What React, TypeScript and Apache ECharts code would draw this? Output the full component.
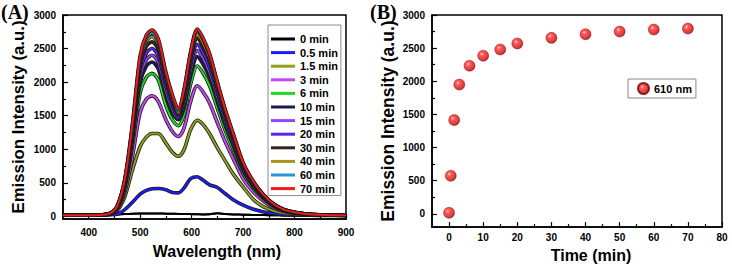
import React, { useEffect, useRef } from "react";
import * as echarts from "echarts";

// ---------- data ----------
const wavelengths = [350, 420, 440, 455, 470, 485, 500, 512, 523, 535, 550, 563, 574, 585, 598, 611, 622, 635, 650, 665, 680, 700, 720, 740, 760, 780, 800, 830, 860, 900];

const spectrumLabels = ["0 min", "0.5 min", "1.5 min", "3 min", "6 min", "10 min", "15 min", "20 min", "30 min", "40 min", "60 min", "70 min"];
const spectrumColors = ["#000000", "#1c1cf5", "#8f9f1e", "#c846ee", "#22d822", "#1c1c50", "#9444f2", "#5c24f0", "#3a2222", "#a89222", "#3090d8", "#ee1c1c"];

const s0min = [15, 18, 22, 28, 35, 40, 42, 42, 42, 42, 40, 38, 36, 35, 33, 30, 28, 30, 45, 35, 28, 25, 20, 18, 15, 14, 13, 12, 12, 12];
const s05min = [15, 18, 22, 30, 100, 210, 330, 385, 410, 415, 395, 355, 350, 420, 560, 590, 540, 470, 430, 340, 250, 165, 105, 65, 40, 25, 18, 15, 14, 13];
const s15min = [15, 18, 30, 80, 290, 690, 1040, 1180, 1235, 1235, 1090, 950, 895, 990, 1290, 1430, 1370, 1230, 1020, 830, 640, 440, 250, 140, 80, 45, 30, 20, 16, 14];
const s3min = [15, 19, 35, 97, 355, 892, 1553, 1746, 1795, 1714, 1440, 1260, 1190, 1310, 1708, 1945, 1854, 1686, 1395, 1115, 871, 558, 362, 224, 126, 70, 43, 25, 18, 14];
const s6min = [15, 20, 38, 115, 422, 1059, 1842, 2072, 2130, 2034, 1651, 1430, 1350, 1510, 1967, 2240, 2135, 1942, 1606, 1284, 1004, 643, 417, 258, 146, 81, 49, 27, 19, 14];
const s10min = [15, 20, 39, 124, 455, 1143, 1990, 2238, 2300, 2197, 1783, 1530, 1440, 1605, 2090, 2380, 2268, 2063, 1706, 1364, 1066, 683, 443, 274, 155, 86, 52, 28, 19, 15];
const s15minB = [15, 20, 39, 130, 475, 1193, 2076, 2335, 2400, 2292, 1860, 1580, 1460, 1665, 2169, 2470, 2354, 2141, 1771, 1415, 1107, 709, 459, 284, 160, 89, 54, 28, 19, 15];
const s20min = [15, 20, 40, 135, 495, 1243, 2163, 2433, 2500, 2388, 1938, 1630, 1480, 1725, 2248, 2560, 2440, 2220, 1835, 1467, 1147, 735, 476, 294, 166, 92, 56, 29, 20, 15];
const s30min = [15, 20, 40, 140, 515, 1292, 2249, 2530, 2600, 2483, 2015, 1690, 1510, 1786, 2327, 2650, 2525, 2298, 1900, 1518, 1187, 760, 493, 305, 172, 95, 58, 29, 20, 15];
const s40min = [15, 20, 40, 145, 530, 1332, 2318, 2608, 2680, 2560, 2077, 1740, 1540, 1825, 2380, 2710, 2583, 2350, 1943, 1553, 1214, 778, 504, 312, 176, 98, 60, 30, 20, 15];
const s60min = [15, 20, 40, 148, 540, 1357, 2360, 2656, 2730, 2607, 2115, 1770, 1570, 1865, 2432, 2770, 2640, 2400, 1985, 1587, 1240, 795, 515, 318, 180, 100, 60, 30, 20, 15];
const s70min = [15, 20, 40, 150, 550, 1380, 2400, 2700, 2775, 2650, 2150, 1800, 1600, 1880, 2450, 2790, 2660, 2420, 2000, 1600, 1250, 800, 520, 320, 180, 100, 60, 30, 20, 15];
const spectra = [s0min, s05min, s15min, s3min, s6min, s10min, s15minB, s20min, s30min, s40min, s60min, s70min];

const times = [0, 0.5, 1.5, 3, 6, 10, 15, 20, 30, 40, 50, 60, 70];
const intensity610 = [15, 575, 1415, 1950, 2235, 2385, 2480, 2570, 2655, 2710, 2750, 2780, 2795];

const wavelengthTicks = [400, 500, 600, 700, 800, 900];
const wavelengthMinorTicks = [450, 550, 650, 750, 850];
const intensityTicks = [0, 500, 1000, 1500, 2000, 2500, 3000];
const intensityMinorTicks = [250, 750, 1250, 1750, 2250, 2750];
const timeTicks = [0, 10, 20, 30, 40, 50, 60, 70, 80];
const timeMinorTicks = [5, 15, 25, 35, 45, 55, 65, 75];

// ---------- styles ----------
const FONT = 'Arial, "Liberation Sans", sans-serif';
const labelStyle = { fontSize: 10, fontWeight: "bold" as const, color: "#000", fontFamily: FONT };
const nameStyleBase = { fontWeight: "bold" as const, color: "#000", fontFamily: FONT };

function majorAxis(extra: any, ticks: number[], labelMargin: number) {
  return {
    type: "value",
    axisLine: { show: true, onZero: false, lineStyle: { color: "#000", width: 1.5 } },
    axisTick: { show: true, inside: true, length: 5, customValues: ticks, lineStyle: { color: "#000", width: 1.2 } },
    axisLabel: { ...labelStyle, customValues: ticks, margin: labelMargin, formatter: (v: number) => String(v) },
    splitLine: { show: false },
    ...extra,
  };
}
function minorAxis(extra: any, ticks: number[]) {
  return {
    type: "value",
    axisLine: { show: false, onZero: false },
    axisTick: { show: true, inside: true, length: 3, customValues: ticks, lineStyle: { color: "#000", width: 1.2 } },
    axisLabel: { show: false },
    splitLine: { show: false },
    ...extra,
  };
}

export default function App() {
  const ref = useRef<HTMLDivElement>(null);
  useEffect(() => {
    if (!ref.current) return;
    const chart = echarts.init(ref.current, undefined, { renderer: "svg" });

    const lineSeries: any[] = [];
    spectra.forEach((vals, i) => {
      const data = wavelengths.map((w, k) => [w, vals[k]]);
      lineSeries.push({
        type: "line",
        name: "_edge" + i,
        xAxisIndex: 0,
        yAxisIndex: 0,
        data,
        showSymbol: false,
        smooth: 0.3,
        silent: true,
        lineStyle: { color: "#1a1a1a", width: i === 0 ? 2 : 3.6 },
        z: 2,
      });
      lineSeries.push({
        type: "line",
        name: spectrumLabels[i],
        xAxisIndex: 0,
        yAxisIndex: 0,
        data,
        showSymbol: false,
        smooth: 0.3,
        color: spectrumColors[i],
        itemStyle: { color: spectrumColors[i] },
        lineStyle: { color: spectrumColors[i], width: 2 },
        z: 2,
      });
    });

    const ballFill = {
      type: "radial",
      x: 0.38,
      y: 0.35,
      r: 0.7,
      colorStops: [
        { offset: 0, color: "#ffc8d8" },
        { offset: 0.25, color: "#ff3030" },
        { offset: 0.75, color: "#d80808" },
        { offset: 1, color: "#5a0000" },
      ],
    };

    chart.setOption({
      animation: false,
      backgroundColor: "#fff",
      grid: [
        { left: 63, top: 15, right: 386, bottom: 49, show: true, borderColor: "#000", borderWidth: 1.5, backgroundColor: "transparent" },
        { left: 432, top: 15, right: 10, bottom: 40, show: true, borderColor: "#000", borderWidth: 1.5, backgroundColor: "transparent" },
      ],
      xAxis: [
        majorAxis(
          {
            gridIndex: 0, min: 350, max: 900, position: "bottom",
            name: "Wavelength (nm)", nameLocation: "middle", nameGap: 24,
            nameTextStyle: { ...nameStyleBase, fontSize: 16, padding: [0, 0, 0, 25] },
          },
          wavelengthTicks, 8
        ),
        minorAxis({ gridIndex: 0, min: 350, max: 900, position: "bottom" }, wavelengthMinorTicks),
        majorAxis(
          {
            gridIndex: 1, min: -5, max: 80, position: "bottom",
            name: "Time (min)", nameLocation: "middle", nameGap: 18,
            nameTextStyle: { ...nameStyleBase, fontSize: 16, padding: [0, 0, 0, 28] },
          },
          timeTicks, 5
        ),
        minorAxis({ gridIndex: 1, min: -5, max: 80, position: "bottom" }, timeMinorTicks),
      ],
      yAxis: [
        majorAxis(
          {
            gridIndex: 0, min: -40, max: 3000, position: "left",
            name: "Emission Intensity (a.u.)", nameLocation: "middle", nameGap: 36,
            nameTextStyle: { ...nameStyleBase, fontSize: 16.8 },
          },
          intensityTicks, 7
        ),
        minorAxis({ gridIndex: 0, min: -40, max: 3000, position: "left" }, intensityMinorTicks),
        majorAxis(
          {
            gridIndex: 1, min: -200, max: 3000, position: "left",
            name: "Emission Intensity (a.u.)", nameLocation: "middle", nameGap: 35,
            nameTextStyle: { ...nameStyleBase, fontSize: 17.5 },
          },
          intensityTicks, 7
        ),
        minorAxis({ gridIndex: 1, min: -200, max: 3000, position: "left" }, intensityMinorTicks),
      ],
      legend: [
        {
          data: spectrumLabels,
          orient: "vertical",
          left: 268,
          top: 25,
          icon: "rect",
          itemWidth: 24,
          itemHeight: 3,
          itemGap: 1.6,
          padding: [8, 3, 1, 3],
          borderColor: "#8a8a8a",
          borderWidth: 1,
          selectedMode: false,
          textStyle: { fontSize: 11, fontWeight: "bold", color: "#000", fontFamily: FONT, lineHeight: 12 },
        },
        {
          data: ["610 nm"],
          orient: "vertical",
          left: 628,
          top: 79,
          icon: "circle",
          itemWidth: 11,
          itemHeight: 11,
          padding: [3, 4, 3, 9],
          borderColor: "#8a8a8a",
          borderWidth: 1,
          selectedMode: false,
          textStyle: { fontSize: 11, fontWeight: "bold", color: "#000", fontFamily: FONT, lineHeight: 12 },
        },
      ],
      graphic: [
        { type: "text", left: 1, top: 2, style: { text: "(A)", font: 'bold 20px "Times New Roman", "Liberation Serif", serif', fill: "#000" } },
        { type: "text", left: 370, top: 2, style: { text: "(B)", font: 'bold 20px "Times New Roman", "Liberation Serif", serif', fill: "#000" } },
      ],
      series: [
        ...lineSeries,
        {
          type: "scatter",
          name: "610 nm",
          xAxisIndex: 2,
          yAxisIndex: 2,
          data: times.map((t, k) => [t, intensity610[k]]),
          symbolSize: 11,
          itemStyle: { color: ballFill, borderColor: "#7a0000", borderWidth: 0.5 },
          z: 3,
        },
      ],
    });
    return () => chart.dispose();
  }, []);

  return (
    <div
      ref={ref}
      style={{ position: "absolute", left: 0, top: 0, width: 732, height: 268, background: "#fff" }}
    />
  );
}
